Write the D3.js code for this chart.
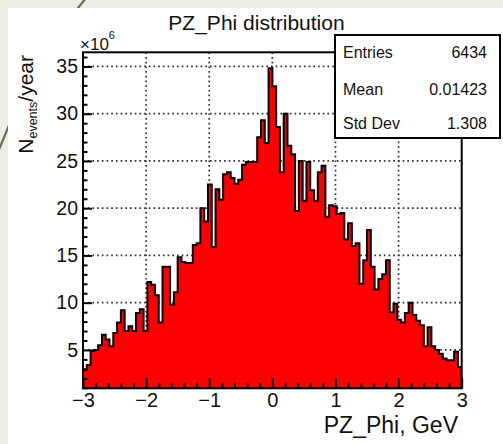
<!DOCTYPE html>
<html>
<head>
<meta charset="utf-8">
<script src="https://cdn.jsdelivr.net/npm/d3@7"></script>
<style>
  html, body { margin: 0; padding: 0; background: #EDEEE3; }
  svg { display: block; }
  text { font-family: "Liberation Sans", Arial, Helvetica, sans-serif; fill: #111; }
</style>
</head>
<body>
<svg id="chart" width="503" height="444"></svg>
<script>
// ---- data ----
const xRange = [-3, 3];
const nBins = 100;
const binValues = [
  2.9, 3.4, 4.9, 5.0, 5.5, 6.6, 6.1, 5.4, 6.8, 7.9,
  9.2, 7.0, 7.5, 7.0, 8.9, 9.3, 7.0, 12.2, 11.9, 10.8,
  7.9, 13.8, 13.8, 9.8, 11.1, 14.8, 14.3, 14.2, 14.2, 16.1,
  16.3, 20.0, 18.6, 22.5, 15.9, 22.0, 20.9, 23.6, 23.8, 23.2,
  22.6, 23.0, 24.6, 24.9, 24.9, 24.9, 27.5, 29.3, 26.9, 34.8,
  32.9, 28.6, 23.8, 30.0, 26.6, 25.7, 19.7, 25.0, 20.8, 24.9,
  21.9, 20.8, 23.8, 24.5, 19.1, 20.3, 20.2, 19.4, 19.5, 16.7,
  18.4, 16.0, 16.3, 12.0, 14.5, 17.7, 13.8, 11.4, 12.5, 13.0,
  14.5, 9.0, 9.9, 8.2, 7.9, 8.9, 10.0, 8.7, 8.1, 7.6,
  5.4, 7.4, 5.4, 5.0, 4.6, 4.1, 3.9, 3.9, 4.8, 3.2
];
const yDomain = [0.94, 36.5];
const xTickValues = [-3, -2, -1, 0, 1, 2, 3];
const yTickValues = [5, 10, 15, 20, 25, 30, 35];
const statsLabels = ["Entries", "Mean", "Std Dev"];
const statsValues = ["6434", "0.01423", "1.308"];
const titleText = "PZ_Phi distribution";
const xTitle = "PZ_Phi, GeV";

// ---- layout ----
const frame = { left: 83, right: 461.7, top: 52.3, bottom: 388.3 };
const svg = d3.select("#chart");

// background decoration
svg.append("rect").attr("width", 503).attr("height", 444).attr("fill", "#EDEEE3");
svg.append("line").attr("x1", 86).attr("y1", -2).attr("x2", 70).attr("y2", 18)
  .attr("stroke", "#6E6B52").attr("stroke-width", 2.2);
svg.append("line").attr("x1", 12).attr("y1", 118).attr("x2", -2).attr("y2", 152)
  .attr("stroke", "#6E6B52").attr("stroke-width", 2.2);
// white pad
svg.append("rect").attr("x", 8).attr("y", 8).attr("width", 495).attr("height", 436).attr("fill", "#fff");

const x = d3.scaleLinear().domain(xRange).range([frame.left, frame.right]);
const y = d3.scaleLinear().domain(yDomain).range([frame.bottom, frame.top]);

const binWidth = (xRange[1] - xRange[0]) / nBins;
const bins = binValues.map((v, i) => ({ x0: xRange[0] + i * binWidth, x1: xRange[0] + (i + 1) * binWidth, v }));

svg.append("defs").append("clipPath").attr("id", "clip")
  .append("rect").attr("x", frame.left).attr("y", frame.top)
  .attr("width", frame.right - frame.left).attr("height", frame.bottom - frame.top);

// grid
const grid = svg.append("g").attr("stroke", "#333").attr("stroke-width", 1.7)
  .attr("stroke-dasharray", "1.7,3").attr("fill", "none");
grid.selectAll("line.gx").data(xTickValues.filter(d => d > xRange[0] && d < xRange[1])).join("line")
  .attr("x1", d => x(d)).attr("x2", d => x(d)).attr("y1", frame.top).attr("y2", frame.bottom);
grid.selectAll("line.gy").data(yTickValues).join("line")
  .attr("x1", frame.left).attr("x2", frame.right).attr("y1", d => y(d)).attr("y2", d => y(d));

// histogram
const pts = [];
pts.push([bins[0].x0, yDomain[0]]);
bins.forEach(b => { pts.push([b.x0, b.v]); pts.push([b.x1, b.v]); });
pts.push([bins[bins.length - 1].x1, yDomain[0]]);

const area = d3.area().x(d => x(d[0])).y0(y(yDomain[0])).y1(d => y(d[1]));
const line = d3.line().x(d => x(d[0])).y(d => y(d[1]));
const hg = svg.append("g").attr("clip-path", "url(#clip)");
hg.append("path").attr("d", area(pts)).attr("fill", "#FF0000");
hg.append("path").attr("d", line(pts)).attr("fill", "none").attr("stroke", "#000")
  .attr("stroke-width", 2).attr("stroke-linejoin", "miter");

// axes
const fmt = d3.format("");
const yAxis = d3.axisLeft(y).tickValues(yTickValues).tickSize(-9).tickPadding(5).tickFormat(fmt);
const yMinor = d3.axisLeft(y).tickValues(d3.range(1, 37).filter(d => d % 5 !== 0)).tickSize(-4.5).tickFormat("");
const xAxis = d3.axisBottom(x).tickValues(xTickValues).tickSize(-10).tickPadding(5).tickFormat(d3.format("d"));
const xMinor = d3.axisBottom(x).tickValues(d3.range(-15, 16).filter(d => d % 5 !== 0).map(d => d / 5)).tickSize(-5).tickFormat("");

function style(g, fs) {
  g.select(".domain").remove();
  g.selectAll(".tick line").attr("stroke", "#000").attr("stroke-width", 2);
  g.selectAll(".tick text").attr("font-size", fs).attr("fill", "#111")
    .attr("font-family", '"Liberation Sans", Arial, sans-serif');
}
svg.append("g").attr("transform", `translate(${frame.left},0)`).call(yMinor).call(g => style(g, 0));
svg.append("g").attr("transform", `translate(${frame.left},0)`).call(yAxis).call(g => style(g, "19.5px"));
svg.append("g").attr("transform", `translate(0,${frame.bottom})`).call(xMinor).call(g => style(g, 0));
svg.append("g").attr("transform", `translate(0,${frame.bottom})`).call(xAxis).call(g => style(g, "20px"));

// frame
svg.append("rect").attr("x", frame.left).attr("y", frame.top)
  .attr("width", frame.right - frame.left).attr("height", frame.bottom - frame.top)
  .attr("fill", "none").attr("stroke", "#000").attr("stroke-width", 2);

// title
svg.append("text").attr("x", 256.5).attr("y", 30).attr("text-anchor", "middle")
  .attr("font-size", "21px").text(titleText);

// x10^6
const mult = svg.append("text").attr("x", 80).attr("y", 50).attr("font-size", "17px");
mult.append("tspan").text("×10");
mult.append("tspan").attr("font-size", "11px").attr("dy", -11).text("6");

// y title
const yt = svg.append("text").attr("transform", "translate(33,55) rotate(-90)")
  .attr("text-anchor", "end").attr("font-size", "21px");
yt.append("tspan").text("N");
yt.append("tspan").attr("font-size", "12.5px").attr("dy", 4).text("events");
yt.append("tspan").attr("dy", -4).text("/year");

// x title
svg.append("text").attr("x", 458).attr("y", 433).attr("text-anchor", "end")
  .attr("font-size", "23px").text(xTitle);

// stats box
const sb = { x: 335, y: 35, w: 165, h: 103 };
svg.append("rect").attr("x", sb.x).attr("y", sb.y).attr("width", sb.w).attr("height", sb.h)
  .attr("fill", "#fff").attr("stroke", "#000").attr("stroke-width", 2);
const rowY = [58, 95, 128.5];
svg.selectAll("text.sl").data(statsLabels).join("text").attr("class", "sl")
  .attr("x", 343).attr("y", (d, i) => rowY[i]).attr("font-size", "16px").text(d => d);
svg.selectAll("text.sv").data(statsValues).join("text").attr("class", "sv")
  .attr("x", 487).attr("y", (d, i) => rowY[i]).attr("text-anchor", "end").attr("font-size", "16px").text(d => d);
</script>
</body>
</html>
